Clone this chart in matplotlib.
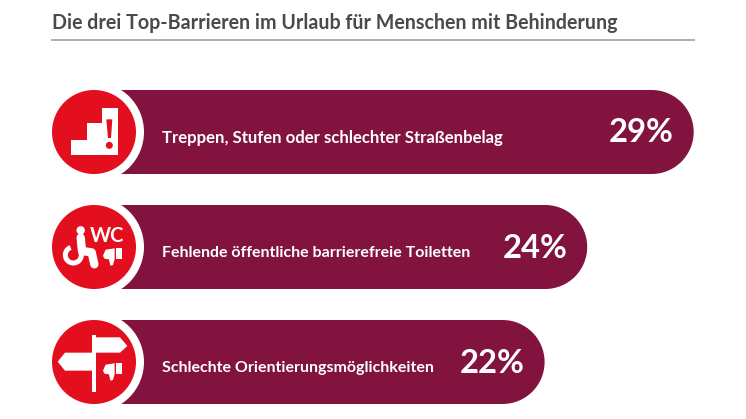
import matplotlib
matplotlib.use('Agg')
import matplotlib.pyplot as plt
from matplotlib.patches import Circle, Ellipse, Polygon, Rectangle, Arc

title = 'Die drei Top-Barrieren im Urlaub für Menschen mit Behinderung'
labels = ['Treppen, Stufen oder schlechter Straßenbelag',
          'Fehlende öffentliche barrierefreie Toiletten',
          'Schlechte Orientierungsmöglichkeiten']
values = [29, 24, 22]
label_sizes = [12.1, 11.5, 11.55]

W, H = 746, 419
BAR = '#82133f'
RED = '#e30f1e'
FONT = 'Lato'
PX_PER_PCT = 21.3
ZERO_PX = 76

fig = plt.figure(figsize=(W / 100, H / 100), dpi=100)

# bars in percent units
ax = fig.add_axes([0, 0, 1, 1])
ax.set_xlim(-ZERO_PX / PX_PER_PCT, (W - ZERO_PX) / PX_PER_PCT)
ax.set_ylim((H - 132) / 115, -132 / 115)
ax.axis('off')
bar_h = 84 / 115
cap_w = 84 / PX_PER_PCT
for i, v in enumerate(values):
    ax.barh(i, v - cap_w / 2, height=bar_h, color=BAR, linewidth=0, zorder=1)
    ax.add_patch(Ellipse((v - cap_w / 2, i), cap_w, bar_h, color=BAR, lw=0, zorder=1))
    ax.text(v - 20 / PX_PER_PCT, i + 1 / 115, '%d%%' % v, color='white', fontsize=23.6,
            fontweight='bold', family=FONT, ha='right', va='center', zorder=3)
    ax.text(86 / PX_PER_PCT, i + 6 / 115, labels[i], color='white', fontsize=label_sizes[i],
            fontweight='bold', family=FONT, ha='left', va='center', zorder=3)

# overlay in pixels for title and icons
px = fig.add_axes([0, 0, 1, 1], facecolor='none')
px.set_xlim(0, W)
px.set_ylim(H, 0)
px.axis('off')

px.text(52, 23, title, color='#4a4a4a', fontsize=14.15, fontweight='bold', family=FONT,
        ha='left', va='center')
px.plot([52, 694], [40, 40], color='#a8a8a8', lw=1.3)


def pts(cy, coords):
    return [(94 + (x - 162) / 3, cy + (y - 156) / 3) for x, y in coords]


def thumb(cy):
    px.add_patch(Polygon(pts(cy, [(228, 160), (246, 160), (246, 191), (228, 191)]), color='white', lw=0, zorder=5))
    px.add_patch(Polygon(pts(cy, [(197, 164), (224, 160), (224, 191), (219, 210), (211, 212),
                                  (207, 193), (193, 191), (189, 182)]), color='white', lw=0, zorder=5))


for cy in [132, 247, 362]:
    px.add_patch(Circle((94, cy), 50, color='white', lw=0, zorder=3))
    px.add_patch(Circle((94, cy), 42, color=RED, lw=0, zorder=4))

# stairs
cy = 132
px.add_patch(Polygon(pts(cy, [(92, 225), (92, 180), (140, 180), (140, 130), (187, 130), (187, 85),
                              (233, 85), (233, 225)]), color='white', lw=0, zorder=5))
px.add_patch(Polygon(pts(cy, [(199, 118), (217, 118), (213, 174), (204, 174)]), color=RED, lw=0, zorder=6))
px.add_patch(Circle(pts(cy, [(208, 196)])[0], 3.5, color=RED, lw=0, zorder=6))

# wheelchair + WC
cy = 247
px.add_patch(Circle(pts(cy, [(122, 106)])[0], 4.2, color='white', lw=0, zorder=5))
px.plot(*zip(*pts(cy, [(122, 128), (126, 168), (155, 172), (163, 208)])), color='white', lw=6,
        solid_capstyle='round', solid_joinstyle='round', zorder=5)
c = pts(cy, [(100, 180)])[0]
px.add_patch(Arc(c, 16, 16, theta1=-20, theta2=250, color='white', lw=3.6, zorder=5))
px.text(*pts(cy, [(200, 124)])[0], 'WC', color='white', fontsize=14.5, fontweight='bold',
        family=FONT, ha='center', va='center', zorder=5)
thumb(cy)

# signpost
cy = 362
px.add_patch(Rectangle(pts(cy, [(156, 76)])[0], 4, 57, color='white', lw=0, zorder=5))
px.add_patch(Polygon(pts(cy, [(156, 82), (240, 82), (262, 108), (240, 128), (156, 128)]), color='white', lw=0, zorder=5))
px.add_patch(Polygon(pts(cy, [(53, 155), (75, 128), (168, 128), (168, 182), (75, 182)]), color='white', lw=0, zorder=5))
thumb(cy)

fig.savefig('out.png', dpi=100)
